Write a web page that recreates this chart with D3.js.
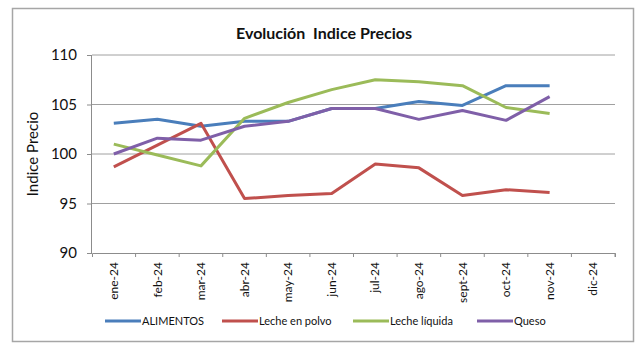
<!DOCTYPE html>
<html>
<head>
<meta charset="utf-8">
<script src="https://cdn.jsdelivr.net/npm/d3@7"></script>
<style>
  body { margin: 0; background: #fff; }
  svg { font-family: Lato, "Open Sans", sans-serif; }
</style>
</head>
<body>
<div id="chart"></div>
<script>
const months = ["ene-24", "feb-24", "mar-24", "abr-24", "may-24", "jun-24", "jul-24", "ago-24", "sept-24", "oct-24", "nov-24", "dic-24"]
const seriesNames = ["ALIMENTOS", "Leche en polvo", "Leche líquida", "Queso"]
const alimentos = [103.1, 103.5, 102.8, 103.3, 103.3, 104.6, 104.6, 105.3, 104.9, 106.9, 106.9]
const lechePolvo = [98.7, 100.9, 103.1, 95.5, 95.8, 96.0, 99.0, 98.6, 95.8, 96.4, 96.1]
const lecheLiquida = [101.0, 99.9, 98.8, 103.6, 105.2, 106.5, 107.5, 107.3, 106.9, 104.7, 104.1]
const queso = [100.0, 101.6, 101.4, 102.8, 103.3, 104.6, 104.6, 103.5, 104.4, 103.4, 105.8]
const yTicks = [90, 95, 100, 105, 110]
const colors = ['#4a7ebb', '#c0504d', '#9bbb59', '#7f5fa8']

const width = 644, height = 349
const margin = { left: 92, right: 29, top: 55, bottom: 96 }

const svg = d3.select('#chart').append('svg')
  .attr('width', width).attr('height', height)

// outer frame
svg.append('rect')
  .attr('x', 12.5).attr('y', 8.5).attr('width', 621).attr('height', 333)
  .attr('fill', '#fff').attr('stroke', '#a6a6a6').attr('stroke-width', 1.5)

const x = d3.scaleBand().domain(months).range([margin.left, width - margin.right])
const y = d3.scaleLinear().domain([90, 110]).range([height - margin.bottom, margin.top])

// gridlines
svg.append('g').selectAll('line').data(yTicks.filter(d => d > 90)).join('line')
  .attr('x1', margin.left).attr('x2', width - margin.right)
  .attr('y1', d => y(d)).attr('y2', d => y(d))
  .attr('stroke', '#a0a0a0').attr('stroke-width', 1)

// y axis
const yAxis = svg.append('g')
  .attr('transform', `translate(${margin.left},0)`)
  .call(d3.axisLeft(y).tickValues(yTicks).tickSize(5).tickPadding(10))
yAxis.selectAll('path, line').attr('stroke', '#8c8c8c')
yAxis.select('.domain').attr('d', `M-0.5,${y(90)}V${y(110)}`)
yAxis.selectAll('text').attr('font-size', 15).attr('fill', '#111')
  .attr('font-family', 'Lato, sans-serif')

// x axis
const xAxis = svg.append('g')
  .attr('transform', `translate(0,${y(90)})`)
  .call(d3.axisBottom(x).tickSizeOuter(4).tickSizeInner(0))
xAxis.selectAll('path').attr('stroke', '#8c8c8c')
xAxis.selectAll('.tick line').remove()
// tick marks on band boundaries
xAxis.append('g').selectAll('line').data(months).join('line')
  .attr('x1', d => x(d) + x.bandwidth()).attr('x2', d => x(d) + x.bandwidth())
  .attr('y1', 0).attr('y2', 4).attr('stroke', '#8c8c8c')
xAxis.selectAll('.tick text')
  .attr('font-size', 12).attr('fill', '#111')
  .attr('font-family', 'Lato, sans-serif')
  .attr('text-anchor', 'end')
  .attr('dy', '0.35em')
  .attr('transform', 'translate(0,9) rotate(-90)')
  .attr('x', 0).attr('y', 0)

// series lines
const allSeries = [alimentos, lechePolvo, lecheLiquida, queso]
const line = d3.line()
  .x((d, i) => x(months[i]) + x.bandwidth() / 2)
  .y(d => y(d))

svg.append('g').selectAll('path').data(allSeries).join('path')
  .attr('d', line)
  .attr('fill', 'none')
  .attr('stroke', (d, i) => colors[i])
  .attr('stroke-width', 3)
  .attr('stroke-linejoin', 'round')

// title
svg.append('text')
  .attr('x', 324).attr('y', 39)
  .attr('text-anchor', 'middle')
  .attr('font-size', 16).attr('font-weight', 'bold').attr('fill', '#111')
  .style('white-space', 'pre')
  .text('Evolución  Indice Precios')

// y axis title
svg.append('text')
  .attr('transform', `translate(38,${(y(90) + y(110)) / 2}) rotate(-90)`)
  .attr('text-anchor', 'middle')
  .attr('font-size', 15).attr('fill', '#111')
  .text('Indice Precio')

// legend
const legendX = [105, 222, 353, 477]
const legend = svg.append('g').selectAll('g').data(seriesNames).join('g')
  .attr('transform', (d, i) => `translate(${legendX[i]},321)`)
legend.append('line')
  .attr('x1', 0).attr('x2', 36).attr('y1', 0).attr('y2', 0)
  .attr('stroke', (d, i) => colors[i]).attr('stroke-width', 3)
legend.append('text')
  .attr('x', 37).attr('y', 0).attr('dy', '0.35em')
  .attr('font-size', 11).attr('fill', '#111')
  .text(d => d)
</script>
</body>
</html>
